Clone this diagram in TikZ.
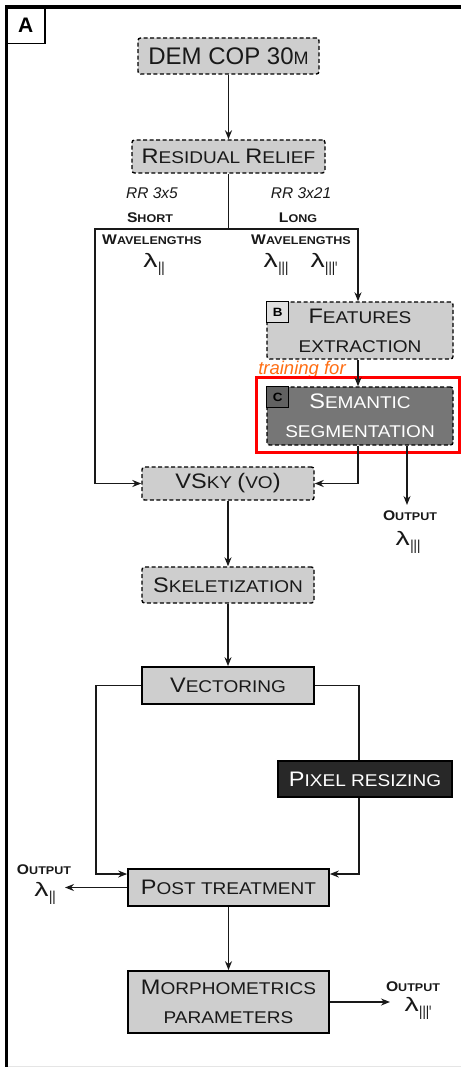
\documentclass[tikz,border=0pt]{standalone}
\usepackage{fontspec}
\usepackage{graphicx}
\setmainfont{Liberation Sans}
\newfontfamily\gsans{Liberation Sans}[FakeStretch=1.12]
\usetikzlibrary{arrows.meta,calc}
\definecolor{boxgray}{RGB}{206,206,206}
\definecolor{semgray}{RGB}{118,118,118}
\definecolor{pixdark}{RGB}{40,40,40}
\definecolor{txtdark}{RGB}{25,25,25}
\definecolor{trainorange}{RGB}{255,110,20}
\newcommand\Bg[1]{{\fontsize{21}{29}\selectfont #1}}
\newcommand\Bb[1]{{\fontsize{14}{16}\selectfont #1}}
\newcommand\lam[1]{\scalebox{1.3}[1]{\fontsize{19.5}{19.5}\selectfont λ}\hspace{0.5pt}\raisebox{-8pt}{\fontsize{19.5}{19.5}\selectfont\scalebox{0.55}[1]{#1}}}
\begin{document}
\begin{tikzpicture}[x=1pt,y=-1pt,
 conn/.style={line width=1.3pt, draw=txtdark},
 arr/.style={conn, -{Stealth[length=9pt,width=7pt]}},
 dbox/.style={draw=black, dash pattern=on 4pt off 2.5pt, line width=1.4pt, rounded corners=2.5pt, fill=boxgray, inner sep=0pt, font=\gsans\fontsize{17}{29}\selectfont, text=txtdark, align=center},
 sbox/.style={draw=black, line width=1.7pt, fill=boxgray, inner sep=0pt, font=\gsans\fontsize{17}{29}\selectfont, text=txtdark, align=center},
 tagbox/.style={draw=black, line width=1pt, minimum width=22, minimum height=21, inner sep=0pt, font=\gsans\bfseries\fontsize{12}{12}\selectfont, anchor=north west},
 lab/.style={font=\gsans\bfseries\fontsize{11.2}{14}\selectfont, inner sep=0pt, text=txtdark},
 ital/.style={font=\itshape\fontsize{15.5}{16}\selectfont, inner sep=0pt, text=txtdark},
 lamb/.style={font=\gsans, inner sep=0pt, text=txtdark, anchor=base}
]
\useasboundingbox (0,0) rectangle (461,1067);
% frame
\draw[black!10, line width=1pt] (8,1066) -- (461,1066);
\draw[line width=3.5pt] (6.5,1067) -- (6.5,7) -- (461,7);
\node[draw, line width=1.5pt, minimum width=38, minimum height=37, inner sep=0pt, anchor=north west, font=\bfseries\fontsize{21}{21}\selectfont] (lblA) at (6,6) {A};

% boxes
\node[dbox, minimum width=181, minimum height=36] (dem) at (228.5,56) {\normalfont\fontsize{24}{24}\selectfont DEM COP 30{\fontsize{18}{24}\selectfont M}};
\node[dbox, minimum width=193, minimum height=33] (rr) at (228.5,156.5) {\Bg{R}ESIDUAL \Bg{R}ELIEF};
\node[dbox, minimum width=186, minimum height=57] (feat) at (360,330.5) {\Bg{F}EATURES\\EXTRACTION};
\node[tagbox, fill=black!12] (tagB) at (feat.north west) {B};

\node[font=\itshape\fontsize{18.5}{20}\selectfont, text=trainorange, inner sep=0pt] (train) at (302,370) {training for};
\node[dbox, fill=semgray, text=white, minimum width=186, minimum height=58] (sem) at (360,416) {\Bg{S}EMANTIC\\SEGMENTATION};
\node[tagbox, fill=black!62] (tagC) at (sem.north west) {C};
\draw[red, line width=3pt] (256,377) rectangle (459,452);

\node[dbox, minimum width=172, minimum height=33] (vsky) at (228,483.5) {\Bg{VS}KY \Bg{(}VO\Bg{)}};
\node[dbox, minimum width=172, minimum height=36] (skel) at (228,585) {\Bg{S}KELETIZATION};
\node[sbox, minimum width=172, minimum height=37] (vec) at (228,685.5) {\Bg{V}ECTORING};
\node[sbox, fill=pixdark, text=white, minimum width=174, minimum height=36] (pix) at (365,779) {\Bg{P}IXEL RESIZING};
\node[sbox, minimum width=201, minimum height=37] (post) at (228.5,887.5) {\Bg{P}OST TREATMENT};
\node[sbox, minimum width=201, minimum height=62] (morph) at (228.5,1002) {\Bg{M}ORPHOMETRICS\\PARAMETERS};

% branch labels
\node[ital] (rr35) at (152,193) {RR 3x5};
\node[ital] (rr321) at (301,193) {RR 3x21};
\node[lab] (short) at (150,218) {\Bb{S}HORT};
\node[lab] (long) at (298,218) {\Bb{L}ONG};
\node[lab] (wl1) at (152,240) {\Bb{W}AVELENGTHS};
\node[lab] (wl2) at (301,240) {\Bb{W}AVELENGTHS};
\node[lamb] (l2) at (154,267) {\lam{II}};
\node[lamb] (l3) at (276,267) {\lam{III}};
\node[lamb] (l3p) at (324,267) {\lam{III'}};

% outputs
\node[lab] (out3) at (410,516) {\Bb{O}UTPUT};
\node[lamb] (out3l) at (408,545) {\lam{III}};
\node[lab] (out2) at (44,870) {\Bb{O}UTPUT};
\node[lamb] (out2l) at (45,896) {\lam{II}};
\node[lab] (out4) at (413,987) {\Bb{O}UTPUT};
\node[lamb] (out4l) at (418,1011) {\lam{III'}};

% connectors
\coordinate (split) at (228.5,229);
\coordinate (lc) at (95,229);
\coordinate (rc) at (358,229);
\draw[arr] (dem.south) -- (rr.north);
\draw[conn] (rr.south) -- (split);
\draw[arr] (split) -- (lc) |- (vsky.west);
\draw[arr] (split) -- (rc) -- (rc |- feat.north);
\draw[arr] (feat.south -| rc) -- (sem.north -| rc);
\draw[arr] (sem.south -| rc) |- (vsky.east);
\coordinate (o3) at (407,505);
\draw[arr] (sem.south -| o3) -- (o3);
\draw[arr] (vsky.south) -- (skel.north);
\draw[arr] (skel.south) -- (vec.north);
\coordinate (vl) at (96,874);
\coordinate (vr) at (359,874);
\draw[arr] (vec.west) -| (vl) -- (vl -| post.west);
\draw[conn] (vec.east) -| (pix.north -| vr);
\draw[arr] (pix.south -| vr) -- (vr) -- (vr -| post.east);
\coordinate (o2) at (65,887.5);
\draw[arr] (post.west) -- (o2);
\draw[arr] (post.south) -- (morph.north);
\coordinate (o4) at (390,1002);
\draw[arr] (morph.east) -- (o4);
\end{tikzpicture}
\end{document}
